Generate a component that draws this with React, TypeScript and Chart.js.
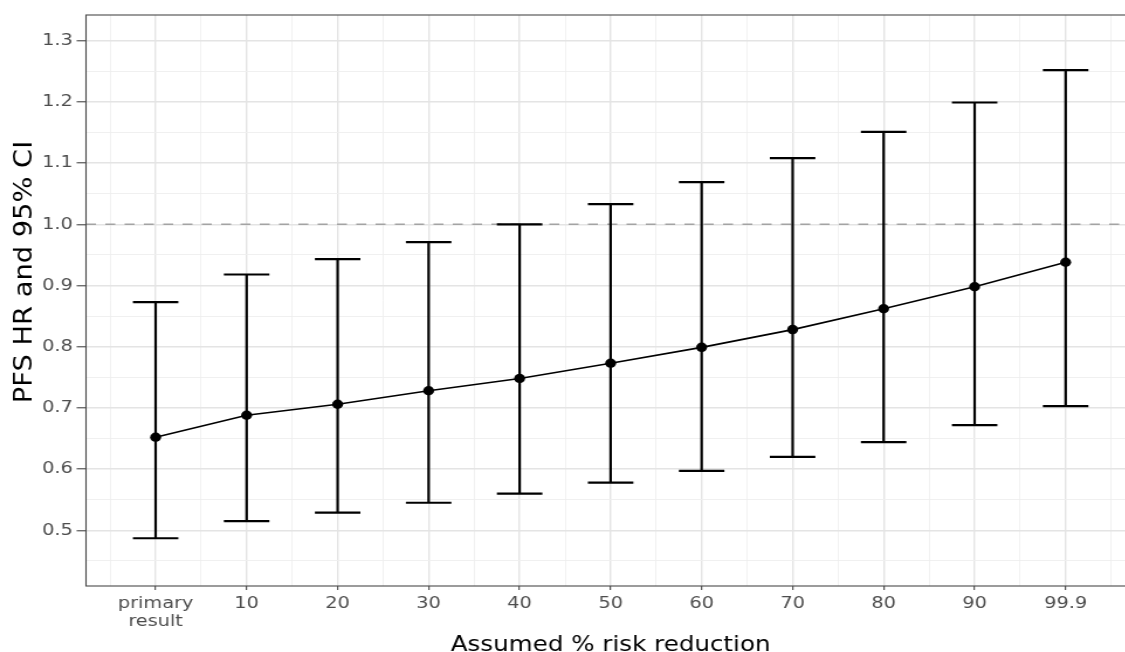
import React, { useEffect, useRef } from 'react';
import { Chart, registerables } from 'chart.js';

Chart.register(...registerables);

// ---- data ----
const categories = ['primary\nresult', '10', '20', '30', '40', '50', '60', '70', '80', '90', '99.9'];
const hrValues = [0.652, 0.688, 0.706, 0.728, 0.748, 0.773, 0.799, 0.828, 0.862, 0.898, 0.938];
const ciLower = [0.487, 0.515, 0.529, 0.545, 0.56, 0.578, 0.597, 0.62, 0.644, 0.672, 0.703];
const ciUpper = [0.873, 0.918, 0.943, 0.971, 1.0, 1.033, 1.069, 1.108, 1.151, 1.199, 1.252];
const yMajorTicks = [0.5, 0.6, 0.7, 0.8, 0.9, 1.0, 1.1, 1.2, 1.3];
const yMinorTicks = [0.45, 0.55, 0.65, 0.75, 0.85, 0.95, 1.05, 1.15, 1.25];
const referenceLine = 1.0;
const xTitle = 'Assumed % risk reduction';
const yTitle = 'PFS HR and 95% CI';

// ---- layout / style ----
const STRETCH = 1.17;
const CANVAS_W = 975;
const CANVAS_H = 652;
const X_MIN = -0.765;
const X_MAX = 10.765;
const Y_MIN = 0.409;
const Y_MAX = 1.342;
const CAP_HALF = 0.25;
const Y_TITLE_LENGTH_SCALE = 1.3;
const Y_TITLE_CENTER = 272;
const TICK_FONT_SIZE = 16.5;
const FONT = '"DejaVu Sans", sans-serif';

const isYMajor = (v: number) => yMajorTicks.some((t) => Math.abs(t - v) < 1e-6);
const isXMajor = (v: number) => Math.abs(v - Math.round(v)) < 1e-6;

const decorPlugin = {
  id: 'decor',
  beforeDatasetsDraw(chart: any) {
    const { ctx, chartArea: a } = chart;
    const x = chart.scales.x;
    const y = chart.scales.y;
    ctx.save();
    ctx.beginPath();
    ctx.rect(a.left, a.top, a.right - a.left, a.bottom - a.top);
    ctx.clip();
    // reference line
    const yr = y.getPixelForValue(referenceLine);
    ctx.strokeStyle = '#a3a3a3';
    ctx.lineWidth = 1.6;
    ctx.setLineDash([8.5, 8]);
    ctx.beginPath();
    ctx.moveTo(a.left, yr);
    ctx.lineTo(a.right, yr);
    ctx.stroke();
    ctx.setLineDash([]);
    // error bars
    ctx.strokeStyle = '#000';
    ctx.lineWidth = 2.2;
    ctx.lineCap = 'butt';
    categories.forEach((_, i) => {
      const xc = x.getPixelForValue(i);
      const xl = x.getPixelForValue(i - CAP_HALF);
      const xr = x.getPixelForValue(i + CAP_HALF);
      const yl = y.getPixelForValue(ciLower[i]);
      const yu = y.getPixelForValue(ciUpper[i]);
      ctx.beginPath();
      ctx.moveTo(xc, yl);
      ctx.lineTo(xc, yu);
      ctx.moveTo(xl, yl);
      ctx.lineTo(xr, yl);
      ctx.moveTo(xl, yu);
      ctx.lineTo(xr, yu);
      ctx.stroke();
    });
    ctx.restore();
  },
  afterDraw(chart: any) {
    const { ctx, chartArea: a } = chart;
    ctx.save();
    // panel border
    ctx.strokeStyle = '#4a4a4a';
    ctx.lineWidth = 1.1;
    ctx.strokeRect(a.left, a.top, a.right - a.left, a.bottom - a.top);
    // titles
    ctx.fillStyle = '#000';
    ctx.font = `21px ${FONT}`;
    ctx.textAlign = 'center';
    ctx.textBaseline = 'alphabetic';
    ctx.fillText(xTitle, (a.left + a.right) / 2, 651);
    ctx.translate(27.1, Y_TITLE_CENTER);
    ctx.rotate(-Math.PI / 2);
    ctx.scale(Y_TITLE_LENGTH_SCALE, 1);
    ctx.fillText(yTitle, 0, 0);
    ctx.restore();
  },
};

export default function App() {
  const ref = useRef<HTMLCanvasElement>(null);

  useEffect(() => {
    const canvas = ref.current;
    if (!canvas) return;
    const chart = new Chart(canvas, {
      type: 'line',
      data: {
        datasets: [
          {
            data: hrValues.map((v, i) => ({ x: i, y: v })),
            borderColor: '#000',
            borderWidth: 1.7,
            pointRadius: 4.7,
            pointBackgroundColor: '#000',
            pointBorderWidth: 0,
            tension: 0,
            fill: false,
          },
        ],
      },
      options: {
        responsive: false,
        animation: false,
        devicePixelRatio: 1,
        events: [],
        layout: { padding: { top: 15, right: 3.7, left: 0, bottom: 0 } },
        plugins: { legend: { display: false }, tooltip: { enabled: false }, title: { display: false } },
        scales: {
          x: {
            type: 'linear',
            min: X_MIN,
            max: X_MAX,
            bounds: 'data',
            afterBuildTicks: (scale: any) => {
              const t: any[] = [];
              for (let i = 0; i < categories.length; i++) {
                t.push({ value: i - 0.5 });
                t.push({ value: i });
              }
              t.push({ value: categories.length - 0.5 });
              scale.ticks = t;
            },
            afterFit: (scale: any) => {
              scale.height = 66;
            },
            border: { display: false },
            grid: {
              color: (c: any) => (isXMajor(c.tick?.value ?? 0) ? '#e4e4e4' : '#eeeeee'),
              lineWidth: (c: any) => (isXMajor(c.tick?.value ?? 0) ? 1.4 : 0.8),
              tickColor: (c: any) => (isXMajor(c.tick?.value ?? 0) ? '#333' : 'rgba(0,0,0,0)'),
              tickWidth: 1,
              tickLength: 4,
              drawTicks: true,
            },
            ticks: {
              autoSkip: false,
              maxRotation: 0,
              minRotation: 0,
              padding: 4.2,
              color: '#4d4d4d',
              font: { family: FONT, size: TICK_FONT_SIZE, lineHeight: 1.12 },
              callback: (value: any) => (isXMajor(value) ? categories[Math.round(value)].split('\n') : ''),
            },
          },
          y: {
            type: 'linear',
            min: Y_MIN,
            max: Y_MAX,
            bounds: 'data',
            afterBuildTicks: (scale: any) => {
              scale.ticks = [...yMinorTicks, ...yMajorTicks]
                .sort((p, q) => p - q)
                .map((v) => ({ value: v }));
            },
            afterFit: (scale: any) => {
              scale.width = 73.5;
            },
            border: { display: false },
            grid: {
              color: (c: any) => (isYMajor(c.tick?.value ?? 0) ? '#e4e4e4' : '#eeeeee'),
              lineWidth: (c: any) => (isYMajor(c.tick?.value ?? 0) ? 1.6 : 0.9),
              tickColor: (c: any) => (isYMajor(c.tick?.value ?? 0) ? '#333' : 'rgba(0,0,0,0)'),
              tickWidth: 1,
              tickLength: 8,
              drawTicks: true,
            },
            ticks: {
              autoSkip: false,
              padding: 3.3,
              color: '#4d4d4d',
              font: { family: FONT, size: TICK_FONT_SIZE },
              callback: (value: any) => (isYMajor(value) ? Number(value).toFixed(1) : ''),
            },
          },
        },
      },
      plugins: [decorPlugin],
    });
    return () => chart.destroy();
  }, []);

  return (
    <div
      style={{
        position: 'fixed',
        left: 0,
        top: 0,
        width: 1125,
        height: 652,
        overflow: 'hidden',
        background: '#fff',
      }}
    >
      <div
        style={{
          width: CANVAS_W,
          height: CANVAS_H,
          transform: `scaleX(${STRETCH})`,
          transformOrigin: '0 0',
        }}
      >
        <canvas ref={ref} width={CANVAS_W} height={CANVAS_H} style={{ display: 'block' }} />
      </div>
    </div>
  );
}
